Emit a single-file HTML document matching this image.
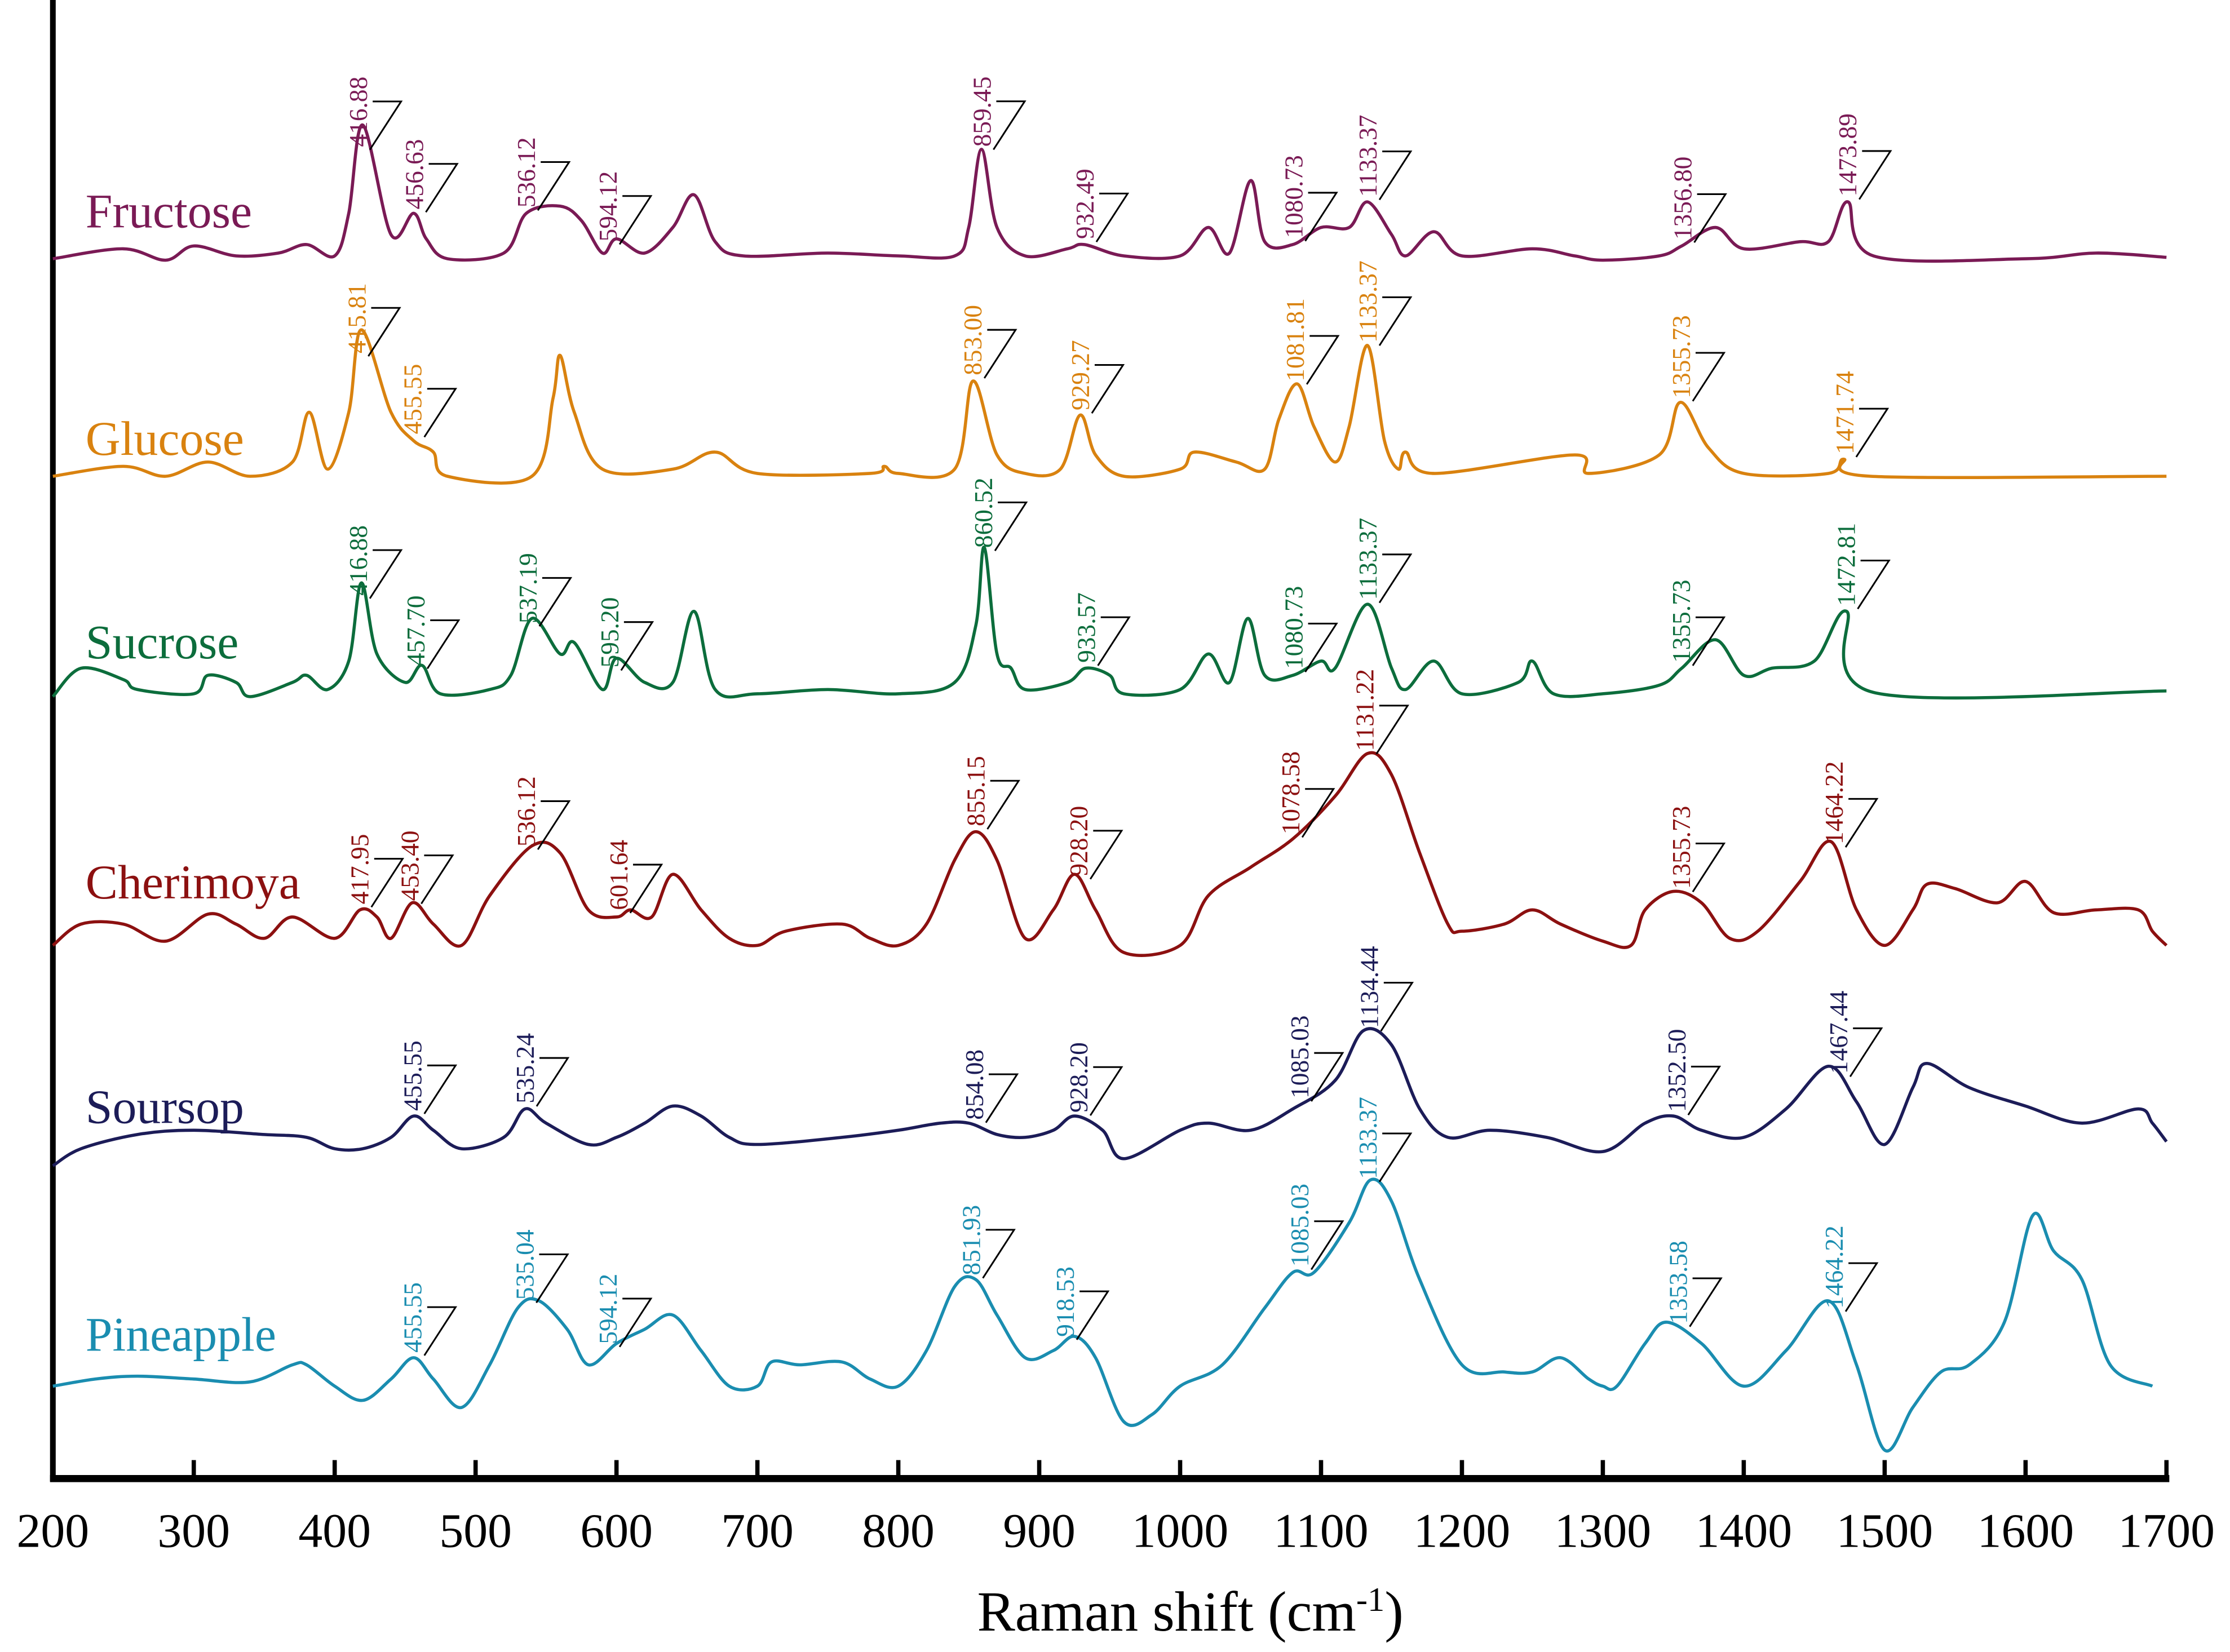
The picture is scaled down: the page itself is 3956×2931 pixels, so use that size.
<!DOCTYPE html>
<html><head><meta charset="utf-8"><style>
html,body{margin:0;padding:0;background:#fff}
svg{display:block}
text{font-family:"Liberation Serif",serif}
</style></head><body>
<svg id="chart" width="3956" height="2931" viewBox="0 0 1568 1162" xmlns="http://www.w3.org/2000/svg">
<g id="axes"></g>
<g id="series"></g>
<g id="ann"></g>
<text x="837" y="1147" text-anchor="middle" font-size="40">Raman shift (cm<tspan dy="-14" font-size="24">-1</tspan><tspan dy="14">)</tspan></text>
</svg>
<script>
const ticks=[200,300,400,500,600,700,800,900,1000,1100,1200,1300,1400,1500,1600,1700];
const names=["Fructose","Glucose","Sucrose","Cherimoya","Soursop","Pineapple"];
const colors=["#7a1a55","#d9820f","#0c6d3c","#8c1010","#1c1c58","#1a8db0"];
const nameY=[160,320,463,632,790,950];
const fructoseWn=[200,250,280,300,330,360,380,400,410,420,440,456,465,480,520,536,560,575,590,600,620,640,655,670,690,750,800,840,850,859,870,890,920,932,960,1000,1020,1035,1050,1060,1080,1100,1120,1133,1150,1160,1180,1200,1250,1280,1300,1340,1356,1380,1400,1440,1460,1474,1492,1600,1650,1700];
const fructoseY=[182,175,183,173,180,178,172,180,150,88,165,150,168,182,178,150,145,155,178,168,178,160,137,170,180,178,180,180,160,105,160,180,175,172,180,180,160,178,127,170,172,160,160,142,165,180,163,180,175,180,183,180,173,160,175,170,170,142,180,182,178,181];
const glucoseWn=[200,250,280,310,340,370,382,395,410,419,440,456,470,480,540,555,560,570,590,640,670,700,780,790,800,840,853,870,890,915,929,940,960,1000,1010,1040,1060,1070,1083,1095,1110,1120,1133,1145,1155,1160,1180,1280,1290,1340,1355,1375,1400,1460,1471,1490,1700];
const glucoseY=[335,328,335,325,335,325,290,330,290,232,290,310,318,335,335,280,250,290,330,330,318,333,333,328,333,330,268,320,333,330,292,320,335,330,318,325,330,295,270,300,325,300,243,310,330,318,333,320,333,320,283,315,333,333,323,335,335];
const sucroseWn=[200,220,250,260,300,310,330,340,370,380,395,410,419,430,450,462,475,510,525,540,560,570,590,600,620,640,655,670,700,750,800,840,855,861,870,880,890,920,933,950,960,1000,1020,1035,1048,1060,1080,1100,1110,1133,1150,1160,1180,1200,1240,1250,1265,1300,1340,1356,1380,1400,1420,1450,1473,1492,1700];
const sucroseY=[490,470,478,485,488,475,480,490,480,475,485,465,410,460,480,468,488,485,475,435,460,452,485,463,480,480,430,485,488,485,488,480,440,385,460,470,485,480,470,475,488,485,460,480,435,475,475,465,470,425,470,485,465,488,480,465,488,488,482,470,450,475,470,465,430,487,486];
const cherimoyaWn=[200,220,250,280,310,330,350,370,400,418,430,440,455,470,490,510,540,560,580,600,610,625,640,660,680,700,720,760,780,800,820,840,855,870,890,910,925,940,960,1000,1020,1050,1080,1110,1133,1150,1170,1190,1200,1230,1250,1270,1300,1320,1330,1350,1370,1390,1410,1440,1462,1480,1500,1520,1530,1550,1580,1600,1620,1650,1680,1690,1700];
const cherimoyaY=[665,650,650,662,643,650,660,645,660,640,645,660,635,650,665,630,595,600,640,645,640,645,615,640,660,665,655,650,660,665,650,605,585,605,660,640,615,640,670,665,630,610,590,560,530,545,600,650,655,650,640,650,662,665,640,627,635,660,655,620,592,640,665,640,622,625,635,620,642,640,640,655,665];
const soursopWn=[200,220,260,300,350,380,400,420,440,456,470,490,520,535,550,580,600,620,640,660,680,700,760,800,830,850,870,890,910,925,945,960,1000,1020,1050,1080,1110,1130,1150,1170,1190,1220,1260,1300,1330,1350,1370,1400,1430,1460,1480,1500,1520,1530,1560,1600,1640,1680,1690,1700];
const soursopY=[820,808,798,795,798,800,808,808,800,785,795,808,800,780,790,805,800,790,778,785,800,805,800,795,790,790,798,800,795,785,795,815,795,790,795,780,760,725,735,780,800,795,800,810,790,785,795,800,780,750,775,805,765,748,765,778,790,780,790,803];
const pineappleWn=[200,230,260,300,340,370,380,400,420,440,456,470,490,510,530,545,565,580,600,620,640,660,680,700,710,730,760,780,800,820,840,855,870,890,910,925,940,960,980,1000,1030,1060,1080,1095,1120,1135,1150,1170,1200,1230,1250,1270,1290,1300,1310,1330,1345,1370,1400,1430,1460,1480,1500,1520,1540,1560,1585,1605,1620,1640,1660,1690];
const pineappleY=[975,970,968,970,972,960,960,975,985,970,955,970,990,960,920,915,935,960,945,935,925,950,975,975,958,960,958,970,975,950,905,900,925,955,950,940,955,1000,995,975,960,920,895,895,860,830,845,900,960,965,965,955,970,975,975,945,930,945,975,950,915,960,1020,990,965,960,930,855,880,900,960,975];
const peakLabels=[
 ["416.88","456.63","536.12","594.12","859.45","932.49","1080.73","1133.37","1356.80","1473.89"],
 ["415.81","455.55","853.00","929.27","1081.81","1133.37","1355.73","1471.74"],
 ["416.88","457.70","537.19","595.20","860.52","933.57","1080.73","1133.37","1355.73","1472.81"],
 ["417.95","453.40","536.12","601.64","855.15","928.20","1078.58","1131.22","1355.73","1464.22"],
 ["455.55","535.24","854.08","928.20","1085.03","1134.44","1352.50","1467.44"],
 ["455.55","535.04","594.12","851.93","918.53","1085.03","1133.37","1353.58","1464.22"]];
const wns=[fructoseWn,glucoseWn,sucroseWn,cherimoyaWn,soursopWn,pineappleWn];
const ys=[fructoseY,glucoseY,sucroseY,cherimoyaY,soursopY,pineappleY];

const NS="http://www.w3.org/2000/svg";
const X=v=>37+(v-200)*0.991;
function mk(t,a,p){const e=document.createElementNS(NS,t);for(const k in a)e.setAttribute(k,a[k]);p.appendChild(e);return e;}
const axes=document.getElementById('axes');
let yl=mk('line',{x1:37,y1:0,x2:37,y2:1042,stroke:'#000','stroke-width':4},axes);


let xl=mk('line',{x1:35,y1:1040,x2:X(1700)+2,y2:1040,stroke:'#000','stroke-width':5},axes);


ticks.forEach(t=>{
 if(t>200){let tk=mk('line',{x1:X(t),y1:1040,x2:X(t),y2:1027,stroke:'#000','stroke-width':3},axes);
 
 }
 let tl=mk('text',{x:X(t),y:1088,'text-anchor':'middle','font-size':34},axes);
 tl.textContent=t;
 
 
});
function interp(w,y,v){for(let i=0;i<w.length-1;i++){if(v>=w[i]&&v<=w[i+1]){const f=(v-w[i])/(w[i+1]-w[i]);return y[i]+f*(y[i+1]-y[i]);}}return y[y.length-1];}
const sg=document.getElementById('series'),ag=document.getElementById('ann');
names.forEach((n,s)=>{
 const w=wns[s],y=ys[s];const P=w.map((v,i)=>[X(v),y[i]]);
 let d='M'+P[0][0]+','+P[0][1];
 for(let i=0;i<P.length-1;i++){const p0=P[Math.max(0,i-1)],p1=P[i],p2=P[i+1],p3=P[Math.min(P.length-1,i+2)];
  const c1=[p1[0]+(p2[0]-p0[0])/6,p1[1]+(p2[1]-p0[1])/6],c2=[p2[0]-(p3[0]-p1[0])/6,p2[1]-(p3[1]-p1[1])/6];
  d+=`C${c1[0].toFixed(1)},${c1[1].toFixed(1)} ${c2[0].toFixed(1)},${c2[1].toFixed(1)} ${p2[0].toFixed(1)},${p2[1].toFixed(1)}`;}
 const path=mk('path',{d:d,fill:'none',stroke:colors[s],'stroke-width':2.2},sg);
 
 
 const lbl=mk('text',{x:60,y:nameY[s],'font-size':34,fill:colors[s]},sg);
 lbl.textContent=n;
 
 
 peakLabels[s].forEach(pl=>{
  const v=parseFloat(pl),px=X(v),py=interp(w,y,v);
  const bottom=py-4;
  const t=mk('text',{x:0,y:0,'font-size':18,fill:colors[s],transform:`translate(${px+6},${bottom}) rotate(-90)`},ag);
  t.textContent=pl;
  
  
  const f=mk('polyline',{points:`${px+8},${py-2} ${px+30},${py-36} ${px+10},${py-36}`,fill:'none',stroke:'#000','stroke-width':1.2},ag);
  
  
 });
});
</script>
</body></html>
